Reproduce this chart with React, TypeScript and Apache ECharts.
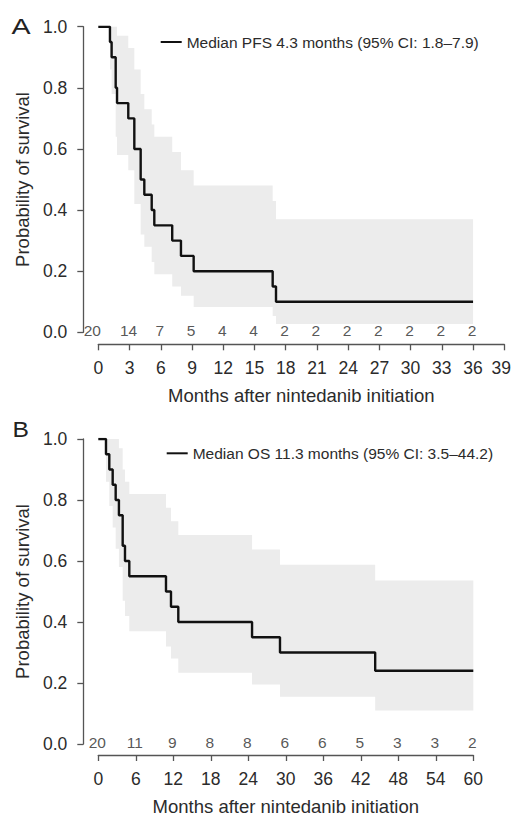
import React, { useEffect, useRef } from "react";
import * as echarts from "echarts";

// ---- Panel A: progression-free survival ----
const PFS_TIMES = [0, 1.12, 1.28, 1.67, 1.8, 2.88, 3.46, 4.07, 4.42, 5.13, 5.38, 7.1, 7.94, 9.16, 16.75, 17.07, 36];
const PFS_SURV = [1, 0.95, 0.9, 0.8, 0.75, 0.7, 0.6, 0.5, 0.45, 0.4, 0.35, 0.3, 0.25, 0.2, 0.15, 0.1, 0.1];
const PFS_LOWER = [1, 0.86, 0.78, 0.64, 0.58, 0.53, 0.42, 0.32, 0.28, 0.23, 0.19, 0.15, 0.12, 0.083, 0.053, 0.027, 0.027];
const PFS_UPPER = [1, 1, 1, 1, 0.97, 0.93, 0.86, 0.78, 0.73, 0.68, 0.64, 0.59, 0.53, 0.48, 0.43, 0.37, 0.37];
const PFS_RISK_MONTHS = [0, 3, 6, 9, 12, 15, 18, 21, 24, 27, 30, 33, 36];
const PFS_AT_RISK = [20, 14, 7, 5, 4, 4, 2, 2, 2, 2, 2, 2, 2];
const PFS_LABEL = "Median PFS 4.3 months (95% CI: 1.8\u20137.9)";

// ---- Panel B: overall survival ----
const OS_TIMES = [0, 1.23, 1.76, 2.3, 2.78, 3.3, 3.9, 4.27, 4.96, 10.83, 11.63, 12.8, 24.6, 29.07, 44.3, 60];
const OS_SURV = [1, 0.95, 0.9, 0.85, 0.8, 0.75, 0.65, 0.6, 0.55, 0.5, 0.45, 0.4, 0.35, 0.3, 0.24, 0.24];
const OS_LOWER = [1, 0.86, 0.78, 0.71, 0.64, 0.58, 0.47, 0.42, 0.37, 0.32, 0.28, 0.234, 0.195, 0.155, 0.11, 0.11];
const OS_UPPER = [1, 1, 1, 1, 1, 0.97, 0.9, 0.86, 0.82, 0.775, 0.73, 0.685, 0.638, 0.588, 0.536, 0.536];
const OS_RISK_MONTHS = [0, 6, 12, 18, 24, 30, 36, 42, 48, 54, 60];
const OS_AT_RISK = [20, 11, 9, 8, 8, 6, 6, 5, 3, 3, 2];
const OS_LABEL = "Median OS 11.3 months (95% CI: 3.5\u201344.2)";

const X_TITLE = "Months after nintedanib initiation";
const Y_TITLE = "Probability of survival";

const FONT = "'Liberation Sans', Arial, Helvetica, sans-serif";
const AXIS_COLOR = "#555";
const TEXT_COLOR = "#2b2b2b";
const BAND_COLOR = "#ececec";

function bandSeries(gridIdx: number, times: number[], lower: number[], upper: number[]) {
  return {
    type: "custom",
    xAxisIndex: gridIdx,
    yAxisIndex: gridIdx,
    silent: true,
    z: 1,
    data: [[times[0], lower[0]]],
    renderItem: (_params: any, api: any) => {
      const n = times.length;
      const pts: number[][] = [];
      for (let i = 1; i < n - 1; i++) {
        pts.push(api.coord([times[i], upper[i]]));
        pts.push(api.coord([times[i + 1], upper[i]]));
      }
      for (let i = n - 2; i >= 1; i--) {
        pts.push(api.coord([times[i + 1], lower[i]]));
        pts.push(api.coord([times[i], lower[i]]));
      }
      return { type: "polygon", shape: { points: pts }, style: { fill: BAND_COLOR } };
    },
  };
}

function kmSeries(gridIdx: number, name: string, times: number[], surv: number[]) {
  return {
    type: "line",
    name,
    xAxisIndex: gridIdx,
    yAxisIndex: gridIdx,
    step: "end",
    showSymbol: false,
    symbol: "none",
    color: "#111",
    z: 3,
    lineStyle: { color: "#111", width: 2.4 },
    data: times.map((t, i) => [t, surv[i]]),
  };
}

function riskSeries(gridIdx: number, months: number[], counts: number[], firstShift: number) {
  return {
    type: "scatter",
    xAxisIndex: gridIdx,
    yAxisIndex: gridIdx,
    symbolSize: 1,
    silent: true,
    clip: false,
    z: 4,
    itemStyle: { color: "transparent" },
    label: {
      show: true,
      position: "inside",
      formatter: (p: any) => String(p.value[2]),
      fontSize: 15.5,
      fontFamily: FONT,
      color: TEXT_COLOR,
      offset: [-1, -2],
    },
    data: months.map((m, i) => ({
      value: [m, 0, counts[i]],
      label: i === 0 ? { offset: [firstShift, -2] } : undefined,
    })),
  };
}

function xAxis(gridIdx: number, max: number, interval: number, offset: number, edgeMax: boolean) {
  return {
    type: "value",
    gridIndex: gridIdx,
    min: 0,
    max,
    interval,
    offset,
    axisLine: { show: true, onZero: false, lineStyle: { color: AXIS_COLOR, width: 1.3 } },
    axisTick: { show: true, length: 6, lineStyle: { color: AXIS_COLOR, width: 1.3 } },
    axisLabel: {
      fontSize: 17.5,
      color: TEXT_COLOR,
      fontFamily: FONT,
      margin: 15,
      formatter: (v: number) => (edgeMax && v === max ? "{r|" + v + "}" : String(v)),
      rich: {
        r: { fontSize: 17.5, color: TEXT_COLOR, fontFamily: FONT, padding: [0, 6, 0, 0] },
      },
    },
    splitLine: { show: false },
    name: X_TITLE,
    nameLocation: "middle",
    nameGap: 42,
    nameTextStyle: { fontSize: 18.5, color: TEXT_COLOR, fontFamily: FONT },
  };
}

function yAxis(gridIdx: number) {
  return {
    type: "value",
    gridIndex: gridIdx,
    min: 0,
    max: 1,
    interval: 0.2,
    offset: 15,
    axisLine: { show: true, onZero: false, lineStyle: { color: AXIS_COLOR, width: 1.3 } },
    axisTick: { show: true, length: 6, lineStyle: { color: AXIS_COLOR, width: 1.3 } },
    axisLabel: {
      fontSize: 17.5,
      color: TEXT_COLOR,
      fontFamily: FONT,
      margin: 16,
      formatter: (v: number) => v.toFixed(1),
    },
    splitLine: { show: false },
    name: Y_TITLE,
    nameLocation: "middle",
    nameRotate: 90,
    nameGap: 50,
    nameTextStyle: { fontSize: 18.5, color: TEXT_COLOR, fontFamily: FONT },
  };
}

function legend(left: number, top: number, name: string) {
  return {
    left,
    top,
    padding: 0,
    data: [name],
    icon: "rect",
    itemWidth: 21,
    itemHeight: 2,
    selectedMode: false,
    textStyle: { fontSize: 15.5, color: TEXT_COLOR, fontFamily: FONT, lineHeight: 18 },
  };
}

export default function App() {
  const ref = useRef<HTMLDivElement>(null);
  useEffect(() => {
    if (!ref.current) return;
    const chart = echarts.init(ref.current, undefined, { renderer: "svg" });
    chart.setOption({
      animation: false,
      backgroundColor: "#fff",
      textStyle: { fontFamily: FONT },
      grid: [
        { left: 98.3, top: 26.7, width: 406, height: 305.6, outerBoundsMode: "none", containLabel: false },
        { left: 98.3, top: 439, width: 375, height: 305, outerBoundsMode: "none", containLabel: false },
      ],
      xAxis: [xAxis(0, 39, 3, 12, true), xAxis(1, 60, 6, 11, false)],
      yAxis: [yAxis(0), yAxis(1)],
      legend: [legend(160.7, 33, PFS_LABEL), legend(166.7, 444.3, OS_LABEL)],
      graphic: [
        {
          type: "text",
          x: 11.5,
          y: 25.8,
          scaleX: 1.3,
          style: { text: "A", fontSize: 22, fill: "#222", fontFamily: FONT, verticalAlign: "middle" },
        },
        {
          type: "text",
          x: 12.5,
          y: 429.2,
          scaleX: 1.12,
          style: { text: "B", fontSize: 22, fill: "#222", fontFamily: FONT, verticalAlign: "middle" },
        },
      ],
      series: [
        bandSeries(0, PFS_TIMES, PFS_LOWER, PFS_UPPER),
        kmSeries(0, PFS_LABEL, PFS_TIMES, PFS_SURV),
        riskSeries(0, PFS_RISK_MONTHS, PFS_AT_RISK, -6),
        bandSeries(1, OS_TIMES, OS_LOWER, OS_UPPER),
        kmSeries(1, OS_LABEL, OS_TIMES, OS_SURV),
        riskSeries(1, OS_RISK_MONTHS, OS_AT_RISK, -1),
      ],
    });
    return () => chart.dispose();
  }, []);
  return (
    <div
      ref={ref}
      style={{ position: "fixed", left: 0, top: 0, width: 512, height: 816, background: "#fff" }}
    />
  );
}
